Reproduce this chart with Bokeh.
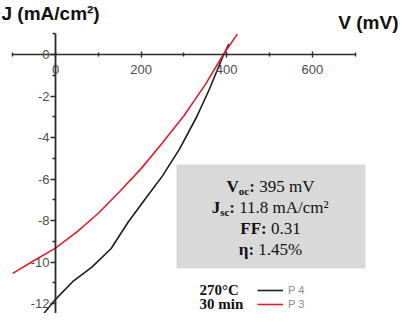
from bokeh.plotting import figure
from bokeh.models import (Range1d, LinearAxis, FixedTicker, Label, BoxAnnotation,
                          Legend, LegendItem, PrintfTickFormatter)
from bokeh.embed import file_html
from bokeh.resources import INLINE

# ---------------- data ----------------
p3_v = [-100, -50, 0, 50, 100, 150, 200, 250, 300, 350, 392, 425]
p3_j = [-10.55, -9.93, -9.33, -8.55, -7.65, -6.6, -5.5, -4.25, -2.95, -1.45, 0.0, 0.98]
p4_v = [-60, -30, 0, 40, 85, 130, 170, 210, 250, 290, 330, 360, 393, 405]
p4_j = [-13.0, -12.55, -11.8, -10.95, -10.25, -9.35, -8.07, -6.95, -5.85, -4.55, -3.0, -1.65, 0.0, 0.5]
series_labels = ["P 4", "P 3"]
x_ticks = [0, 200, 400, 600]
x_minor = [-100, 100, 300, 500, 700]
y_ticks = [-12, -10, -8, -6, -4, -2, 0]
y_minor = [-13, -11, -9, -7, -5, -3, -1, 1]
voc = "395 mV"
jsc = "11.8 mA/cm²"
ff = "0.31"
eta = "1.45%"
cond = ["270°C", "30 min"]

# ---------------- layout helpers (reference pixel -> data) ----------------
X0, XS = 55.0, 0.428
Y0, YS = 54.0, 20.75
def vx(X):
    return (X - X0) / XS
def jy(Y):
    return (Y0 - Y) / YS

W, H = 399, 313
p = figure(width=W, height=H, output_backend="svg", toolbar_location=None,
           x_range=Range1d(vx(0), vx(W)), y_range=Range1d(jy(H), jy(0)),
           x_axis_location=None, y_axis_location=None, min_border=0)
p.outline_line_color = None
p.background_fill_color = "white"
p.border_fill_color = "white"
p.grid.visible = False

AX = "#2b2b2b"
LBL = "#4d4d4d"
xa = LinearAxis(fixed_location=0, bounds=(-100, 700),
                ticker=FixedTicker(ticks=x_ticks, minor_ticks=x_minor),
                formatter=PrintfTickFormatter(format="%d"))
xa.axis_line_color = AX; xa.axis_line_width = 1.6
xa.major_tick_line_color = AX; xa.major_tick_line_width = 1.4
xa.major_tick_in = 3; xa.major_tick_out = 3
xa.minor_tick_line_color = AX; xa.minor_tick_line_width = 1.4
xa.minor_tick_in = 2; xa.minor_tick_out = 2
xa.major_label_text_font = "Liberation Sans"
xa.major_label_text_font_size = "13px"
xa.major_label_text_color = LBL
xa.major_label_standoff = 7
p.add_layout(xa, "below")

ya = LinearAxis(fixed_location=0, bounds=(-14, 1),
                ticker=FixedTicker(ticks=y_ticks, minor_ticks=y_minor),
                formatter=PrintfTickFormatter(format="%d"))
ya.axis_line_color = AX; ya.axis_line_width = 1.8
ya.major_tick_line_color = AX; ya.major_tick_line_width = 1.4
ya.major_tick_in = 0; ya.major_tick_out = 5
ya.minor_tick_line_color = AX; ya.minor_tick_line_width = 1.4
ya.minor_tick_in = 0; ya.minor_tick_out = 3
ya.major_label_text_font = "Liberation Sans"
ya.major_label_text_font_size = "13px"
ya.major_label_text_color = LBL
ya.major_label_standoff = 1
p.add_layout(ya, "left")

# gray info box
p.add_layout(BoxAnnotation(left=vx(176), right=vx(365), top=jy(164), bottom=jy(268),
                           fill_color="#d9d9d9", fill_alpha=1.0, line_color=None,
                           level="underlay"))

r4 = p.line(p4_v, p4_j, line_color="#1c1c1c", line_width=1.6)
r3 = p.line(p3_v, p3_j, line_color="#e41e2b", line_width=1.6)

legend = Legend(items=[LegendItem(label=series_labels[0], renderers=[r4]),
                       LegendItem(label=series_labels[1], renderers=[r3])],
                location=(257, 2), glyph_width=26, glyph_height=14, label_height=14,
                spacing=0, padding=0, margin=0, label_standoff=5,
                label_text_font="Liberation Sans", label_text_font_size="11px",
                label_text_color="#8a8a8a", border_line_color=None,
                background_fill_alpha=0)
p.add_layout(legend, "center")

# axis titles
p.add_layout(Label(x=vx(1), y=jy(13), text="J (mA/cm²)", text_font="Liberation Sans",
                   text_font_style="bold", text_font_size="19px", text_color="#111111",
                   text_align="left", text_baseline="alphabetic"))
p.add_layout(Label(x=vx(398), y=jy(22), text="V (mV)", text_font="Liberation Sans",
                   text_font_style="bold", text_font_size="19px", text_color="#111111",
                   text_align="right", text_baseline="alphabetic"))

# box text composed of pieces (Times metrics)
BOLD = {"V": 722, "o": 500, "c": 444, ":": 333, "J": 500, "s": 389, "F": 611, "η": 556, " ": 250}
REG = {" ": 250, ".": 250, "m": 778, "V": 722, "A": 722, "/": 278, "c": 444, "%": 833, "²": 300}
def tw(s, b, size):
    d = BOLD if b else REG
    return sum(d.get(ch, 500) for ch in s) * size / 1000.0

box_lines = [
    [("V", 1, 17, 0), ("oc", 1, 11, 4), (":", 1, 17, 0), (" " + voc, 0, 17, 0)],
    [("J", 1, 17, 0), ("sc", 1, 11, 4), (":", 1, 17, 0), (" " + jsc, 0, 17, 0)],
    [("FF:", 1, 17, 0), (" " + ff, 0, 17, 0)],
    [("η:", 1, 17, 0), (" " + eta, 0, 17, 0)],
]
baselines = [186, 207, 228, 249]
CX = 270
for pieces, base in zip(box_lines, baselines):
    total = sum(tw(s, b, sz) for s, b, sz, _ in pieces)
    X = CX - total / 2.0
    for s, b, sz, dy in pieces:
        lead = len(s) - len(s.lstrip(" "))
        X += tw(" " * lead, b, sz)
        body = s.lstrip(" ")
        p.add_layout(Label(x=vx(X), y=jy(base + dy), text=body, text_font="Liberation Serif",
                           text_font_style="bold" if b else "normal",
                           text_font_size=f"{sz}px", text_color="#111111",
                           text_align="left", text_baseline="alphabetic"))
        X += tw(body, b, sz)

for t, base in zip(cond, [289, 303]):
    p.add_layout(Label(x=vx(199), y=jy(base), text=t, text_font="Liberation Serif",
                       text_font_style="bold", text_font_size="15px", text_color="#111111",
                       text_align="left", text_baseline="alphabetic"))

open("out.html", "w").write(file_html(p, INLINE))
